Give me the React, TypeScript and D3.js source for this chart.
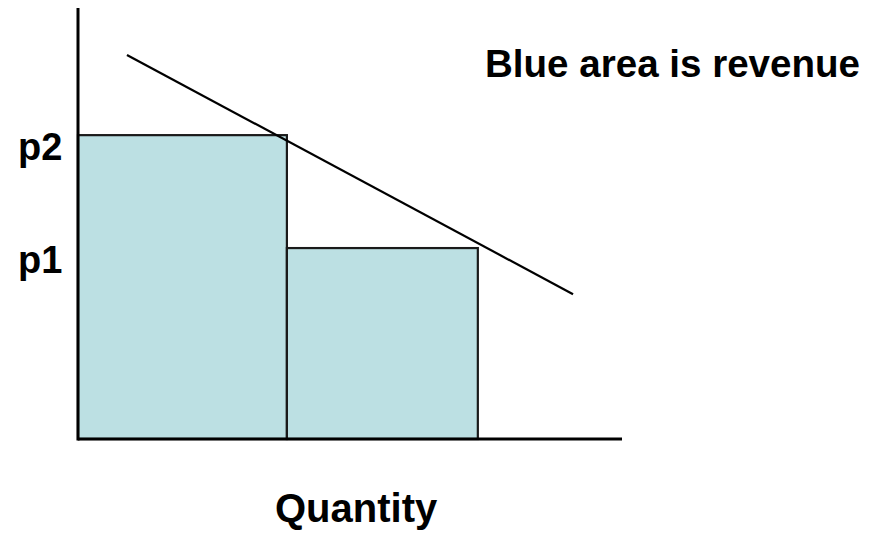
import React from "react";
import * as d3 from "d3";

const quantities = [38.4, 73.5];
const prices = [70.5, 44.3];
const priceLabels = ["p2", "p1"];
const demandX = [9.0, 91.0];
const demandY = [89.1, 33.6];
const xLabel = "Quantity";
const note = "Blue area is revenue";

const W = 877;
const H = 537;
const FONT = "'Liberation Sans', Arial, sans-serif";

export default function App() {
  const x = d3.scaleLinear().domain([0, 100]).range([78, 622]);
  const y = d3.scaleLinear().domain([0, 100]).range([439, 8]);
  const starts = [0, ...quantities.slice(0, -1)];
  const line = d3.line<[number, number]>().x(d => x(d[0])).y(d => y(d[1]));
  const demand: [number, number][] = demandX.map((v, i) => [v, demandY[i]]);
  return (
    <svg width={W} height={H} style={{ position: "absolute", left: 0, top: 0, background: "#fff" }}>
      {quantities.map((q, i) => (
        <rect key={i} x={x(starts[i])} y={y(prices[i])} width={x(q) - x(starts[i])} height={y(0) - y(prices[i])}
          fill="#BCE0E3" stroke="#1a1a1a" strokeWidth={2.2} />
      ))}
      <path d={line(demand) || ""} fill="none" stroke="#000" strokeWidth={2.2} />
      <line x1={x(0)} x2={x(0)} y1={y(100)} y2={y(0) + 1.5} stroke="#000" strokeWidth={3} />
      <line x1={x(0)} x2={x(100)} y1={y(0)} y2={y(0)} stroke="#000" strokeWidth={3.2} />
      {prices.map((p, i) => (
        <text key={i} x={18} y={y(p) + 25} fontFamily={FONT} fontWeight="bold" fontSize={38}>{priceLabels[i]}</text>
      ))}
      <text x={275} y={522} fontFamily={FONT} fontWeight="bold" fontSize={40}>{xLabel}</text>
      <text x={485} y={77} fontFamily={FONT} fontWeight="bold" fontSize={39} textLength={375} lengthAdjust="spacingAndGlyphs">{note}</text>
    </svg>
  );
}
